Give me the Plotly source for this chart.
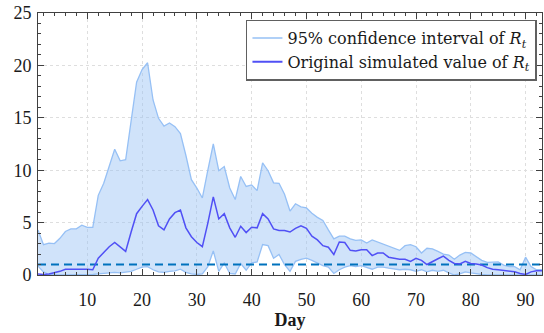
import plotly.graph_objects as go

days = list(range(1, 94))

upper = [4.3, 2.9, 3.05, 3.0, 3.5, 4.15, 4.4, 4.4, 4.75, 4.55,
         4.55, 7.6, 8.75, 10.4, 12.0, 10.9, 11.0, 14.7, 18.4, 19.6,
         20.25, 16.7, 14.95, 14.2, 14.5, 14.15, 13.5, 11.4, 9.1, 8.3,
         7.35, 10.0, 12.5, 9.95, 10.35, 8.3, 7.2, 9.4, 8.45, 8.6,
         8.05, 10.7, 9.95, 8.8, 8.75, 7.7, 6.1, 6.8, 6.5, 6.4,
         5.9, 5.5, 5.2, 4.3, 3.45, 3.7, 3.7, 3.45, 3.3, 3.35,
         3.05, 3.35, 3.15, 3.0, 2.75, 2.55, 2.35, 2.8, 2.9, 2.7,
         2.1, 2.55, 2.5, 2.25, 2.0, 1.9, 1.5, 1.9, 2.15, 2.1,
         1.75, 1.4, 1.2, 1.2, 1.25, 0.95, 0.8, 0.8, 0.5, 1.7,
         0.8, 0.5, 0.5]

original = [0.1, 0.05, 0.1, 0.2, 0.35, 0.55, 0.55, 0.6, 0.6, 0.55,
            0.5, 1.6, 2.15, 2.7, 3.1, 2.7, 2.25, 4.1, 5.85, 6.55,
            7.2, 6.2, 4.7, 4.3, 5.35, 5.95, 6.2, 4.5, 3.65, 3.1,
            2.7, 4.95, 7.45, 5.35, 5.85, 4.5, 3.6, 4.65, 4.05, 4.55,
            4.5, 5.85, 5.35, 4.4, 4.25, 4.25, 4.1, 4.45, 4.7, 4.45,
            3.7, 3.35, 2.8, 2.65, 1.95, 3.15, 3.1, 2.35, 2.3, 2.4,
            2.4, 1.85, 2.1, 2.1, 1.7, 1.6, 1.5, 1.5, 1.3, 1.6,
            1.4, 1.0, 1.3, 1.55, 1.8, 1.4, 1.1, 1.05, 1.3, 1.1,
            1.05, 0.95, 0.7, 0.55, 0.5, 0.45, 0.35, 0.3, 0.15, 0.05,
            0.3, 0.4, 0.4]

lower = [0.85, 0.3, 0.05, 0.0, 0.0, 0.0, 0.0, 0.0, 0.0, 0.0,
         0.05, 0.1, 0.15, 0.2, 0.25, 0.2, 0.25, 0.35, 0.55, 0.75,
         0.8, 0.5, 0.3, 0.25, 0.35, 0.4, 0.55, 0.25, 0.1, 0.05,
         0.1, 0.8, 2.3, 0.35, 1.15, 0.15, 0.1, 1.1, 0.45, 1.15,
         1.25, 2.9, 2.8, 1.6, 1.95, 1.0, 0.35, 1.3, 1.5, 1.6,
         1.4, 1.15, 0.9, 0.75, 0.15, 0.5, 0.75, 0.9, 0.8, 0.9,
         0.75, 0.55, 0.75, 0.75, 0.65, 0.55, 0.5, 0.55, 0.5, 0.35,
         0.5, 0.3, 0.45, 0.35, 0.45, 0.2, 0.0, 0.1, 0.3, 0.2,
         0.1, 0.05, 0.0, 0.0, 0.0, 0.0, 0.0, 0.0, 0.0, 0.0,
         0.0, 0.0, 0.0]

threshold = 1.0
x_ticks = [10, 20, 30, 40, 50, 60, 70, 80, 90]
y_ticks = [0, 5, 10, 15, 20, 25]

ci_line = "rgb(150,192,245)"
ci_fill = "rgba(150,192,245,0.45)"
mean_color = "rgb(80,80,245)"
thr_color = "rgb(0,114,189)"
font_family = "'Liberation Serif', 'Times New Roman', serif"
legend_family = "'DejaVu Serif', serif"
text_color = "#1a1a1a"

fig = go.Figure()

fig.add_trace(go.Scatter(x=days, y=lower, mode="lines",
                         line=dict(color=ci_line, width=1.3),
                         showlegend=False, hoverinfo="skip"))
fig.add_trace(go.Scatter(x=days, y=upper, mode="lines", fill="tonexty",
                         fillcolor=ci_fill,
                         line=dict(color=ci_line, width=1.3),
                         showlegend=False, hoverinfo="skip"))
fig.add_trace(go.Scatter(x=[days[0], days[-1]], y=[threshold, threshold],
                         mode="lines",
                         line=dict(color=thr_color, width=2, dash="8px,5px"),
                         showlegend=False))
fig.add_trace(go.Scatter(x=days, y=original, mode="lines",
                         line=dict(color=mean_color, width=1.5),
                         showlegend=False))

# legend-only entries
fig.add_trace(go.Scatter(x=[None], y=[None], mode="lines",
                         line=dict(color=ci_line, width=1.5),
                         name="95% confidence interval of <i>R<sub>t</sub></i>"))
fig.add_trace(go.Scatter(x=[None], y=[None], mode="lines",
                         line=dict(color=mean_color, width=2),
                         name="Original simulated value of <i>R<sub>t</sub></i>"))

axis_common = dict(
    showline=True, linecolor="#404040", linewidth=1, mirror="ticks",
    ticks="inside", ticklen=6, tickcolor="#404040", tickwidth=1,
    showgrid=True, gridcolor="#dedede", griddash="3px,3px", gridwidth=1,
    zeroline=False,
    tickfont=dict(family=font_family, size=18, color=text_color),
)

fig.update_layout(
    width=544, height=333,
    margin=dict(l=38, r=2, t=13, b=58),
    paper_bgcolor="white", plot_bgcolor="white",
    font=dict(family=font_family, size=18, color=text_color),
    xaxis=dict(range=[1, 93], tickvals=x_ticks, ticklabelstandoff=8,
               minor=dict(dtick=2, tick0=0, ticks="inside", ticklen=3,
                          tickcolor="#404040", showgrid=False),
               title=dict(text="<b>Day</b>", standoff=1,
                          font=dict(family=font_family, size=18, color=text_color)),
               **axis_common),
    yaxis=dict(range=[0, 25], tickvals=y_ticks, ticklabelstandoff=2,
               minor=dict(dtick=1, tick0=0, ticks="inside", ticklen=3,
                          tickcolor="#404040", showgrid=False),
               **axis_common),
    legend=dict(x=0.99, xanchor="right", y=0.975, yanchor="top",
                bgcolor="white", bordercolor="#606060", borderwidth=1.5,
                font=dict(family=legend_family, size=16, color=text_color),
                traceorder="normal", tracegroupgap=0, itemwidth=30),
    showlegend=True,
)

fig.write_html("out.html")
